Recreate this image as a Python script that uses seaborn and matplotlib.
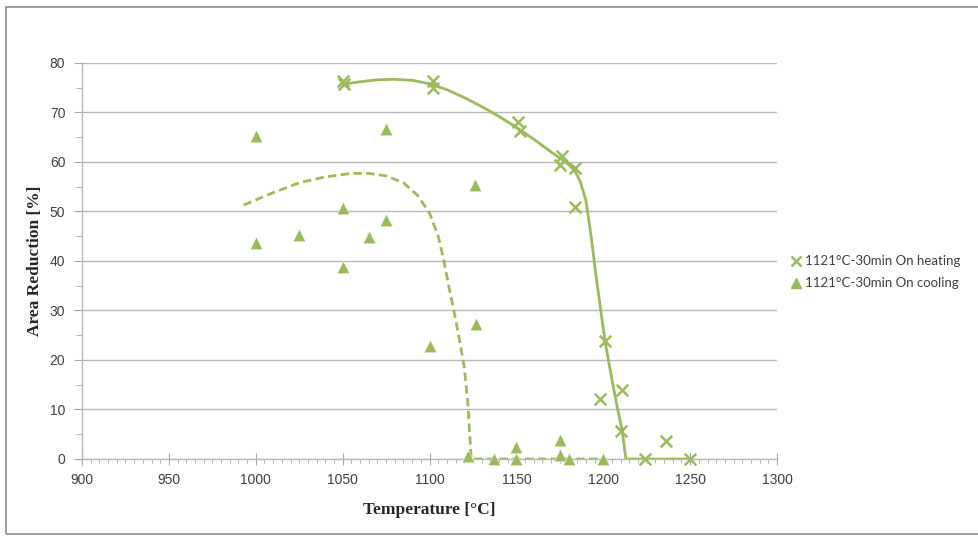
import numpy as np
import pandas as pd
import matplotlib.pyplot as plt
import seaborn as sns
from matplotlib.patches import Rectangle
from matplotlib.ticker import MultipleLocator
from matplotlib.lines import Line2D

# measured points, heating
heat_temp = [1050, 1051, 1102, 1102, 1151, 1152, 1176, 1175, 1184, 1184,
             1201, 1198, 1211, 1210, 1224, 1236, 1250]
heat_ar = [76.4, 75.8, 76.4, 75.0, 68.0, 66.2, 61.3, 59.4, 58.8, 50.9,
           23.8, 12.1, 13.9, 5.6, 0.0, 3.6, 0.0]

# measured points, cooling
cool_temp = [1000, 1000, 1025, 1050, 1050, 1065, 1075, 1075, 1100, 1126,
             1127, 1122, 1137, 1150, 1150, 1175, 1175, 1180, 1200]
cool_ar = [65.3, 43.6, 45.3, 50.7, 38.8, 44.8, 66.7, 48.3, 22.8, 55.4,
           27.2, 0.6, 0.0, 2.4, 0.0, 3.9, 0.8, 0.0, 0.0]

# hand-drawn trend curves
heat_fit_t = [1050, 1060, 1070, 1080, 1090, 1100, 1110, 1120, 1130, 1140, 1150,
              1160, 1170, 1175, 1180, 1184, 1187, 1190, 1193, 1196, 1201, 1205,
              1208, 1211, 1213, 1250]
heat_fit_ar = [75.7, 76.2, 76.6, 76.7, 76.5, 75.8, 74.6, 73.0, 71.2, 69.2, 67.0,
               64.6, 62.0, 60.8, 59.5, 58.0, 55.8, 52.2, 45.0, 36.5, 23.8, 16.0,
               10.5, 5.5, 0.0, 0.0]

cool_fit_t = [993, 1010, 1025, 1040, 1055, 1065, 1075, 1085, 1093, 1100, 1105,
              1108, 1111, 1114, 1117, 1120, 1122, 1124, 1200]
cool_fit_ar = [51.3, 53.8, 55.8, 57.0, 57.7, 57.7, 57.2, 55.8, 53.3, 49.7, 45.0,
               40.5, 35.0, 30.0, 24.5, 18.5, 11.5, 0.0, 0.0]

green = '#9bbb59'

heat = pd.DataFrame({'T': heat_temp, 'AR': heat_ar})
cool = pd.DataFrame({'T': cool_temp, 'AR': cool_ar})
heat_fit = pd.DataFrame({'T': heat_fit_t, 'AR': heat_fit_ar})
cool_fit = pd.DataFrame({'T': cool_fit_t, 'AR': cool_fit_ar})

sns.set_style('white')
plt.rcParams['font.family'] = ['Liberation Sans', 'DejaVu Sans']

fig = plt.figure(figsize=(9.79, 5.36), dpi=100)
ax = fig.add_axes([0.0838, 0.1437, 0.7099, 0.7388])

# outer chart border
fig.patches.append(Rectangle((0.0061, 0.004), 1.2, 0.983, transform=fig.transFigure,
                             fill=False, edgecolor='#8c8c8c', linewidth=1.2))

sns.lineplot(data=heat_fit, x='T', y='AR', sort=False, estimator=None,
             color=green, linewidth=2, ax=ax)
sns.lineplot(data=cool_fit, x='T', y='AR', sort=False, estimator=None,
             color=green, linewidth=2, linestyle=(0, (3, 1.6)), ax=ax)

sns.scatterplot(data=heat, x='T', y='AR', marker='x', s=70, color=green,
                linewidth=1.8, ax=ax, zorder=3, clip_on=False)
sns.scatterplot(data=cool, x='T', y='AR', marker='^', s=80, color=green,
                edgecolor='white', linewidth=0.3, ax=ax, zorder=3, clip_on=False)

ax.set_xlim(900, 1300)
ax.set_ylim(0, 80)
ax.xaxis.set_major_locator(MultipleLocator(50))
ax.xaxis.set_minor_locator(MultipleLocator(5))
ax.yaxis.set_major_locator(MultipleLocator(10))
ax.yaxis.set_minor_locator(MultipleLocator(5))
ax.grid(axis='y', which='major', color='#b8b8b8', linewidth=1)
ax.set_axisbelow(True)

for s in ['top', 'right']:
    ax.spines[s].set_visible(False)
for s in ['left', 'bottom']:
    ax.spines[s].set_color('#b8b8b8')
    ax.spines[s].set_linewidth(1)

ax.tick_params(axis='y', which='major', direction='out', length=6, color='#a6a6a6',
               labelsize=10, labelcolor='#404040', pad=6, left=True)
ax.tick_params(axis='y', which='minor', direction='out', length=4, color='#a6a6a6', left=True)
ax.tick_params(axis='x', which='major', direction='inout', length=8, color='#a6a6a6',
               labelsize=10, labelcolor='#404040', pad=6, bottom=True)
ax.tick_params(axis='x', which='minor', direction='out', length=3, color='#a6a6a6', bottom=True)

ax.set_xlabel('Temperature [°C]', family='Liberation Serif', fontweight='bold',
              fontsize=12.5, labelpad=11)
ax.set_ylabel('Area Reduction [%]', family='Liberation Serif', fontweight='bold',
              fontsize=12.5, labelpad=5)

handles = [Line2D([], [], marker='x', color=green, linestyle='none', markersize=7, mew=1.8),
           Line2D([], [], marker='^', color=green, linestyle='none', markersize=7.5)]
labels = ['1121°C-30min On heating', '1121°C-30min On cooling']
fig.legend(handles, labels, loc='center left', bbox_to_anchor=(0.793, 0.492),
           frameon=False, prop={'family': 'Lato', 'size': 9.5}, handletextpad=0.05,
           handlelength=1.2, labelspacing=0.75, labelcolor='#404040')

fig.savefig('out.png', dpi=100)
